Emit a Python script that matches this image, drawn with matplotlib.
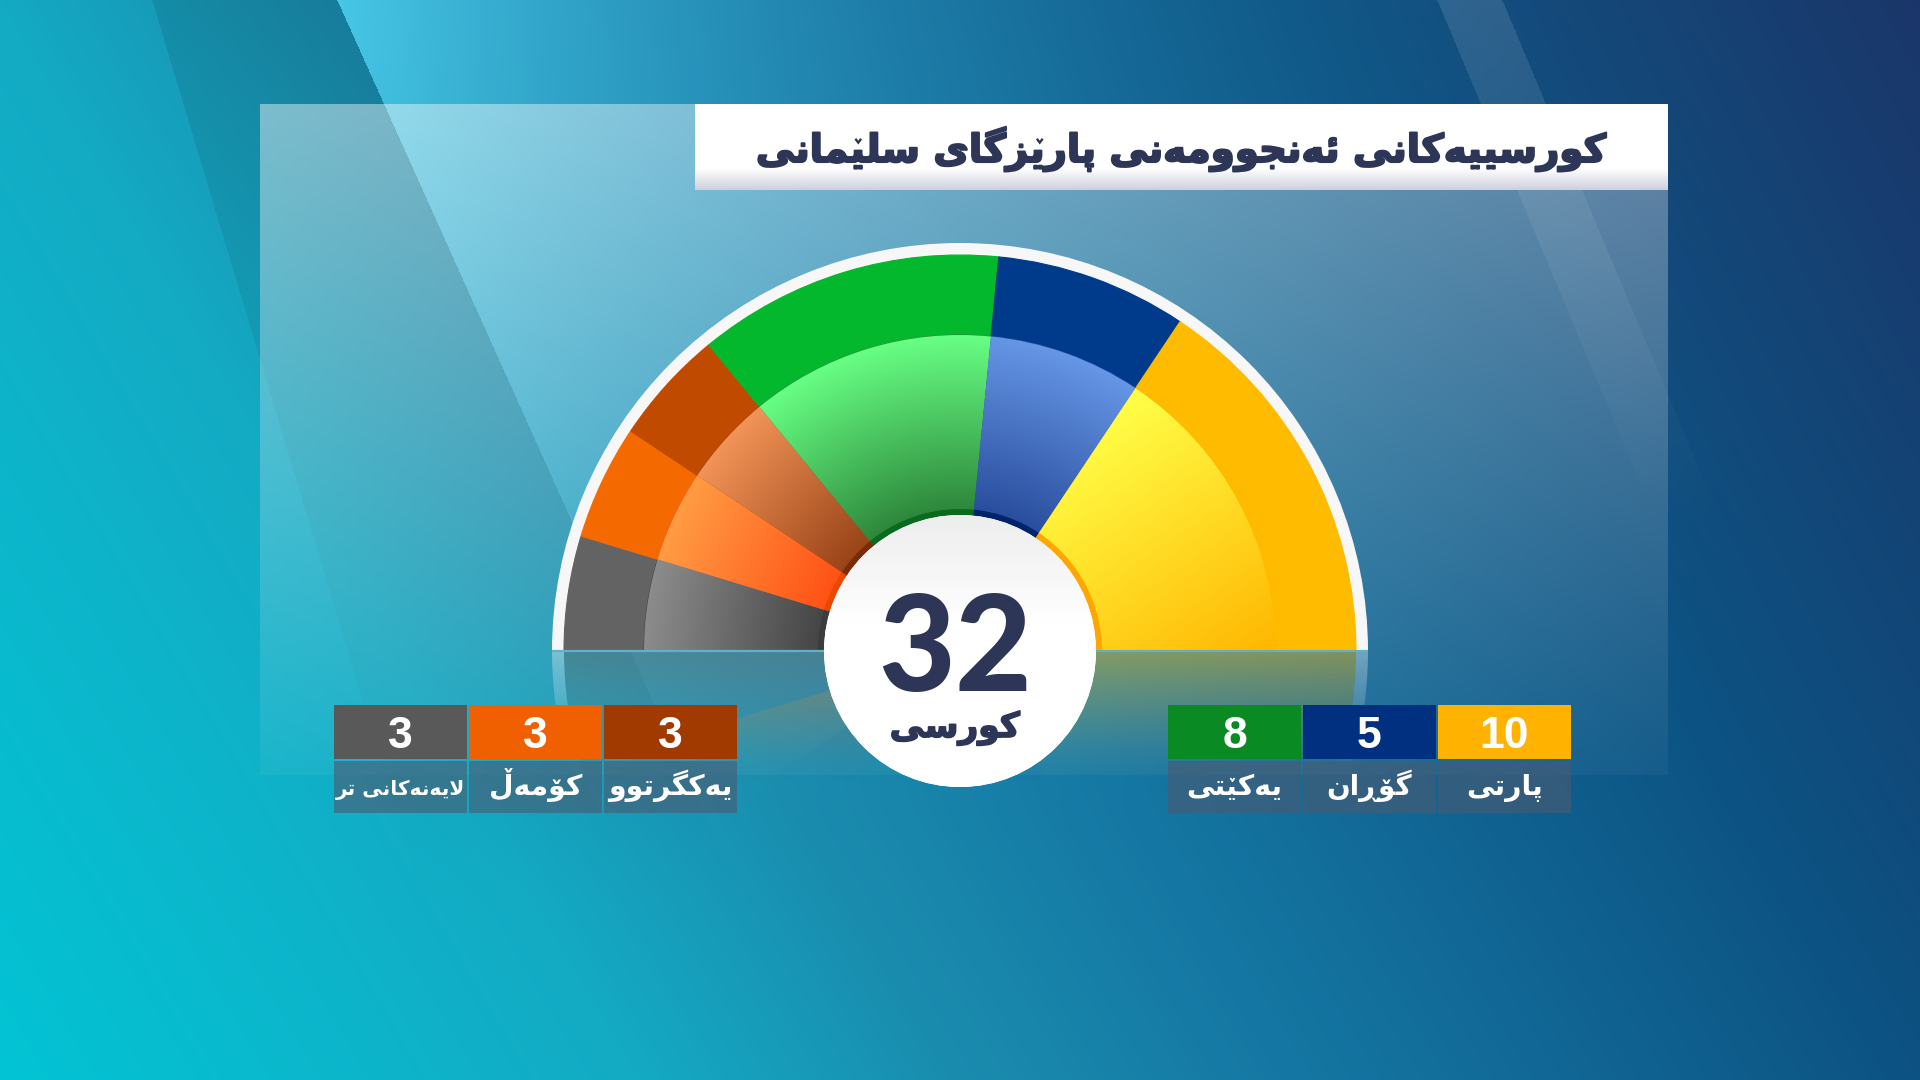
import numpy as np
import matplotlib
matplotlib.use("Agg")
import matplotlib.pyplot as plt
import matplotlib.patheffects as pe
from matplotlib.patches import Wedge, Rectangle, Circle
from matplotlib import font_manager
from matplotlib.ft2font import FT2Font

# ============================================================
# DATA
# ============================================================
title_text = "کورسییەکانی ئەنجوومەنی پارێزگای سلێمانی"
seat_word = "کورسی"
parties = ["لایەنەکانی تر", "کۆمەڵ", "یەکگرتوو", "یەکێتی", "گۆڕان", "پارتی"]
seats = [3, 3, 3, 8, 5, 10]

# ============================================================
# STYLE
# ============================================================
outer_colors = ["#636363", "#f56a00", "#c04a00", "#04b82e", "#003b8b", "#ffbb00"]
inner_light  = ["#8c8c8c", "#ff9c44", "#f29458", "#68ff84", "#6696e6", "#ffff48"]
inner_dark   = ["#464646", "#ff5216", "#9a4418", "#2e883c", "#2a4e9e", "#ffb600"]
ring_colors  = ["#3c3c3c", "#e84800", "#7a2c06", "#0a6a1e", "#00246c", "#ffa600"]
box_colors   = ["#595959", "#f06000", "#a03a00", "#0a8a22", "#00307f", "#ffb300"]
navy_text = "#2d3656"

W, H = 1920, 1080
CX, CY = 960, H - 651
R_RIM, R_OUT, R_IN, R_RING, R_HOLE = 408, 396, 316, 142, 136

# ============================================================
# ARABIC SHAPING (matplotlib draws glyphs one by one, left to right)
# ============================================================
AR_FAMILY = "DejaVu Sans"
FORMS = {  # isolated, final, initial, medial
    "\u06A9": ("\uFB8E", "\uFB8F", "\uFB90", "\uFB91"),
    "\u06AF": ("\uFB92", "\uFB93", "\uFB94", "\uFB95"),
    "\u06CC": ("\uFBFC", "\uFBFD", "\uFBFE", "\uFBFF"),
    "\u067E": ("\uFB56", "\uFB57", "\uFB58", "\uFB59"),
    "\u0633": ("\uFEB1", "\uFEB2", "\uFEB3", "\uFEB4"),
    "\u0646": ("\uFEE5", "\uFEE6", "\uFEE7", "\uFEE8"),
    "\u0626": ("\uFE89", "\uFE8A", "\uFE8B", "\uFE8C"),
    "\u062C": ("\uFE9D", "\uFE9E", "\uFE9F", "\uFEA0"),
    "\u0645": ("\uFEE1", "\uFEE2", "\uFEE3", "\uFEE4"),
    "\u0644": ("\uFEDD", "\uFEDE", "\uFEDF", "\uFEE0"),
    "\u062A": ("\uFE95", "\uFE96", "\uFE97", "\uFE98"),
    "\u06CE": ("\u06CE", "\uFBFD", "\uFBFE", "\uFBFF"),
    "\u06B5": ("\u06B5", "\uFEDE", "\uFEDF", "\uFEE0"),
    "\u0648": ("\uFEED", "\uFEEE"),
    "\u0631": ("\uFEAD", "\uFEAE"),
    "\u0627": ("\uFE8D", "\uFE8E"),
    "\u0632": ("\uFEAF", "\uFEB0"),
    "\u06C6": ("\uFBD9", "\uFBDA"),
    "\u0695": ("\u0695", "\u0695"),
    "\u06D5": ("\u06D5", "\uFEEA"),
}
V_LETTERS = {"\u06CE", "\u06B5"}   # joined forms get a small v drawn on top
DUAL = {c for c, f in FORMS.items() if len(f) == 4}
LAM_ALEF = ("\uFEFB", "\uFEFC")


def load_face(weight):
    path = font_manager.findfont(font_manager.FontProperties(family=AR_FAMILY, weight=weight))
    return FT2Font(path)


def face_ok(ft):
    need = "".join("".join(f) for f in FORMS.values())
    return all(ft.get_char_index(ord(ch)) for ch in need)


def shape(text, ft):
    """Return the visual string plus (index, form) of letters needing a v mark."""
    has = lambda ch: ft.get_char_index(ord(ch)) != 0
    chars = list(text)
    units = []
    i = 0
    while i < len(chars):
        c = chars[i]
        if c not in FORMS:
            units.append((c, None))
            i += 1
            continue
        prev = i > 0 and chars[i - 1] in DUAL
        if c == "\u0644" and i + 1 < len(chars) and chars[i + 1] == "\u0627":
            units.append((LAM_ALEF[1 if prev else 0], None))
            i += 2
            continue
        nxt = c in DUAL and i + 1 < len(chars) and chars[i + 1] in FORMS
        f = FORMS[c]
        k = (1 if prev else 0) if len(f) == 2 else (1 if prev else 0) + (2 if nxt else 0)
        g = f[k] if has(f[k]) else c
        mark = k if (c in V_LETTERS and k > 0) else None
        units.append((g, mark))
        i += 1
    units = units[::-1]
    s = "".join(u[0] for u in units)
    marks = [(j, u[1]) for j, u in enumerate(units) if u[1] is not None]
    return s, marks


face_bold = load_face("bold")
AR_WEIGHT = "bold" if face_ok(face_bold) else "normal"
face = face_bold if AR_WEIGHT == "bold" else load_face("normal")

# ============================================================
# FIGURE
# ============================================================
fig = plt.figure(figsize=(W / 100, H / 100), dpi=100)
ax = fig.add_axes([0, 0, 1, 1])
ax.set_xlim(0, W)
ax.set_ylim(0, H)
ax.axis("off")
renderer = fig.canvas.get_renderer()


def hexrgb(c):
    return np.array(matplotlib.colors.to_rgb(c), dtype=np.float32)


# ---- background, light beams, translucent panel, title box ----
yy, xx = np.mgrid[0:H, 0:W].astype(np.float32)
u = 0.75 * xx / W + 0.25 * (1 - yy / H)
stops = [0.0, 0.25, 0.375, 0.5, 0.75, 1.0]
stop_cols = [hexrgb(c) for c in ["#02c4d4", "#14aac4", "#1a8cae", "#1578a4", "#0c5282", "#1a3468"]]
bg = np.stack([np.interp(u, stops, [c[k] for c in stop_cols]) for k in range(3)], -1).astype(np.float32)

L1 = 152 + 0.30 * yy
L2 = 337 + 0.45 * yy
band = ((xx >= L1) & (xx < L2)) * 0.10 * np.clip(1 - yy / 900, 0, 1)
bg = bg * (1 - band[..., None])

d = xx - L2
a = np.where(d >= 0, 0.7 * np.exp(-d / 380), 0) * np.clip(1 - yy / 820, 0, 1) ** 1.3
bg = bg * (1 - a[..., None]) + np.array([0.36, 0.88, 1.0], np.float32) * a[..., None]

d2 = xx - (1437 + 0.42 * yy)
a2 = ((d2 >= 0) & (d2 < 65)) * 0.12 * np.clip(1 - yy / 520, 0, 1)
bg = bg * (1 - a2[..., None]) + a2[..., None]

inside = (xx >= 260) & (xx < 1668) & (yy >= 104) & (yy < 775)
ap = (0.44 - 0.09 * (xx - 260) / 1408) * (1 - 0.9 * (yy - 104) / 671)
ap = np.where(inside, ap, 0)
bg = bg * (1 - ap[..., None]) + ap[..., None]

tb = (xx >= 695) & (xx < 1668) & (yy >= 104) & (yy < 190)
shade = np.clip((yy - 168) / 22, 0, 1)
tcol = 1 - shade[..., None] * (1 - np.array([0.80, 0.81, 0.86], np.float32))
bg = np.where(tb[..., None], tcol, bg)

ax.imshow(np.clip(bg, 0, 1), extent=(0, W, 0, H), origin="upper",
          interpolation="nearest", zorder=0, aspect="auto")

# ---- seat angles from data ----
total = sum(seats)
cum = np.concatenate([[0], np.cumsum(seats)])
theta_hi = 180 - 180 * cum[:-1] / total
theta_lo = 180 - 180 * cum[1:] / total

# ---- reflection below the baseline ----
rx = np.arange(CX - R_RIM, CX + R_RIM) + 0.5
ry = np.arange(CY - 160, CY)[::-1] + 0.5
RX, RY = np.meshgrid(rx, ry)
fade = np.clip(1 - (CY - RY) / 135, 0, 1) ** 1.4
ref_ext = (CX - R_RIM, CX + R_RIM, CY - 160, CY)
for i in range(len(seats)):
    w = Wedge((CX, CY), R_OUT, -theta_hi[i], -theta_lo[i], fc="none", ec="none")
    ax.add_patch(w)
    img = np.zeros(RX.shape + (4,), np.float32)
    img[..., :3] = hexrgb(outer_colors[i])
    img[..., 3] = 0.42 * fade
    im = ax.imshow(img, extent=ref_ext, origin="upper", zorder=1, aspect="auto")
    im.set_clip_path(w)
rim_ref = Wedge((CX, CY), R_RIM, 180, 360, width=R_RIM - R_OUT, fc="none", ec="none")
ax.add_patch(rim_ref)
img = np.zeros(RX.shape + (4,), np.float32)
img[..., :3] = 1.0
img[..., 3] = 0.35 * fade
im = ax.imshow(img, extent=ref_ext, origin="upper", zorder=1, aspect="auto")
im.set_clip_path(rim_ref)

# ---- semicircle ----
ax.add_patch(Wedge((CX, CY), R_RIM, 0, 180, width=R_RIM - R_OUT + 1,
                   fc="#f7f7f7", ec="none", zorder=2))

gx = np.arange(CX - R_IN, CX + R_IN) + 0.5
gy = np.arange(CY, CY + R_IN)[::-1] + 0.5
GX, GY = np.meshgrid(gx, gy)
DX, DY = GX - CX, GY - CY
RR = np.hypot(DX, DY)
t_rad = np.clip((RR - R_RING) / (R_IN - R_RING), 0, 1)
ang = np.deg2rad(125)
proj = DX * np.cos(ang) + DY * np.sin(ang)
t_lin = np.clip((proj + 181) / (113 + 181), 0, 1)

for i in range(len(seats)):
    ax.add_patch(Wedge((CX, CY), R_OUT, theta_lo[i], theta_hi[i], width=R_OUT - R_IN + 1,
                       fc=outer_colors[i], ec=outer_colors[i], lw=0.8, zorder=2))
    w = Wedge((CX, CY), R_IN, theta_lo[i], theta_hi[i], width=R_IN - R_HOLE,
              fc=inner_dark[i], ec=inner_dark[i], lw=0.8, zorder=3)
    ax.add_patch(w)
    t = t_lin if i == len(seats) - 1 else t_rad
    lo, hi = hexrgb(inner_dark[i]), hexrgb(inner_light[i])
    img = lo + (hi - lo) * t[..., None]
    im = ax.imshow(img, extent=(CX - R_IN, CX + R_IN, CY, CY + R_IN), origin="upper",
                   zorder=3.5, aspect="auto", interpolation="bilinear")
    im.set_clip_path(w)
    ax.add_patch(Wedge((CX, CY), R_RING, theta_lo[i], theta_hi[i], width=R_RING - R_HOLE + 3,
                       fc=ring_colors[i], ec="none", zorder=4))

ax.plot([CX - R_RIM, CX + R_RIM], [CY, CY], color="#5fb2cc", lw=1.6, zorder=5,
        solid_capstyle="butt")

# ---- center disc ----
disc = Circle((CX, CY), R_HOLE, fc="white", ec="none", zorder=6)
ax.add_patch(disc)
cy_ = np.arange(CY - R_HOLE, CY + R_HOLE)[::-1] + 0.5
tv = np.clip(((cy_ - CY) / R_HOLE - 0.2) / 0.8, 0, 1)
dimg = np.repeat((1 - 0.07 * tv)[:, None], 2 * R_HOLE, axis=1)
dimg = np.repeat(dimg[..., None], 3, axis=2)
im = ax.imshow(dimg, extent=(CX - R_HOLE, CX + R_HOLE, CY - R_HOLE, CY + R_HOLE),
               origin="upper", zorder=6.5, aspect="auto")
im.set_clip_path(disc)


# ---- text helpers ----
def text_width(s, prop):
    return renderer.get_text_width_height_descent(s, prop, ismath=False)[0]


def fit(t, width):
    wpx = t.get_window_extent(renderer).width
    t.set_fontsize(t.get_fontsize() * width / wpx)
    return t


def ar_text(x, y, raw, size, color, stroke=0.0, z=8):
    s, marks = shape(raw, face)
    kw = dict(ha="center", va="baseline", color=color, family=[AR_FAMILY],
              weight=AR_WEIGHT, fontsize=size, zorder=z)
    if stroke:
        kw["path_effects"] = [pe.withStroke(linewidth=stroke, foreground=color)]
    t = ax.text(x, y, s, **kw)
    t._ar = (s, marks, color)
    return t


def add_marks(t):
    s, marks, color = t._ar
    prop = t.get_fontproperties()
    em = prop.get_size_in_points() * 100 / 72
    x0 = t.get_position()[0] - text_width(s, prop) / 2
    yb = t.get_position()[1]
    for j, form in marks:
        xa = text_width(s[:j], prop) if j else 0.0
        xb = text_width(s[:j + 1], prop)
        frac = 0.62 if form == 2 else 0.5
        xm = x0 + xa + (xb - xa) * frac
        yv = yb + 0.50 * em
        hw, hh = 0.075 * em, 0.10 * em
        ax.plot([xm - hw, xm, xm + hw], [yv + hh, yv, yv + hh], color=color,
                lw=0.06 * em * 0.72, solid_joinstyle="miter", solid_capstyle="butt",
                zorder=t.get_zorder())


fit(ax.text(955, H - 691, str(total), ha="center", va="baseline", color=navy_text,
            family=["Lato", "DejaVu Sans"], weight="black", fontsize=90, zorder=8), 154)
t_seat = fit(ar_text(955, H - 737, seat_word, 30, navy_text, stroke=1.2), 130)
add_marks(t_seat)

# ---- title ----
t_title = fit(ar_text(1182, H - 162, title_text, 40, navy_text, stroke=1.5), 850)
add_marks(t_title)

# ---- legend cells ----
cell_w, gap = 133, 2
top_y0, top_y1, bot_y1 = 705, 759, 813
group_x = {0: 334, 3: 1168}
label_targets = [126, 93, 122, 108, 84, 77]

label_texts = []
for i, name in enumerate(parties):
    g0 = 0 if i < 3 else 3
    x = group_x[g0] + (i - g0) * (cell_w + gap)
    ax.add_patch(Rectangle((x, H - top_y1), cell_w, top_y1 - top_y0,
                           fc=box_colors[i], ec="none", zorder=5))
    ax.add_patch(Rectangle((x, H - bot_y1), cell_w, bot_y1 - top_y1 - 2,
                           fc="#4a5a72", alpha=0.62, ec="none", zorder=5))
    ax.text(x + cell_w / 2, H - 748, str(seats[i]), ha="center", va="baseline",
            color="white", family=["Liberation Sans", "DejaVu Sans"], weight="bold",
            fontsize=32, zorder=8)
    label_texts.append(ar_text(x + cell_w / 2, H - 795, name, 22, "white"))

sizes = []
for t, target in zip(label_texts, label_targets):
    wpx = t.get_window_extent(renderer).width
    sizes.append(t.get_fontsize() * target / wpx)
common = float(np.median(sizes[1:]))
for t, s in zip(label_texts, sizes):
    t.set_fontsize(min(common, s * 1.02))
    add_marks(t)

fig.savefig("out.png", dpi=100)
